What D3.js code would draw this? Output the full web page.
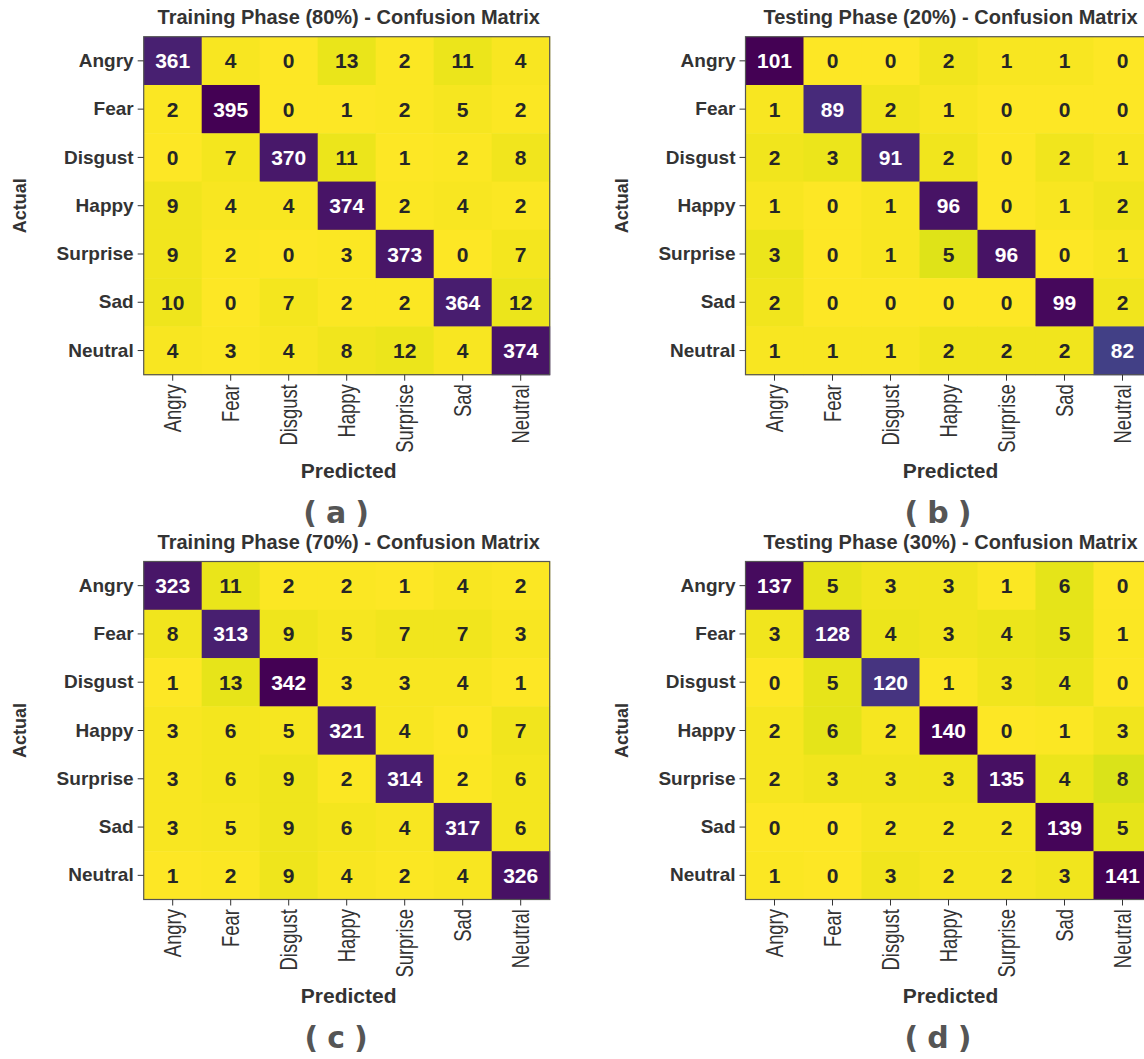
<!DOCTYPE html>
<html>
<head>
<meta charset="utf-8">
<script src="https://cdn.jsdelivr.net/npm/d3@7"></script>
<style>
  body { margin: 0; background: #fff; }
  svg { display: block; }
  .tick line { stroke: #333; }
  .axis path.domain { display: none; }
</style>
</head>
<body>
<svg width="1144" height="1059"></svg>
<script>
const classes = ["Angry", "Fear", "Disgust", "Happy", "Surprise", "Sad", "Neutral"];

const train80 = [
  [361, 4, 0, 13, 2, 11, 4],
  [2, 395, 0, 1, 2, 5, 2],
  [0, 7, 370, 11, 1, 2, 8],
  [9, 4, 4, 374, 2, 4, 2],
  [9, 2, 0, 3, 373, 0, 7],
  [10, 0, 7, 2, 2, 364, 12],
  [4, 3, 4, 8, 12, 4, 374]
];
const test20 = [
  [101, 0, 0, 2, 1, 1, 0],
  [1, 89, 2, 1, 0, 0, 0],
  [2, 3, 91, 2, 0, 2, 1],
  [1, 0, 1, 96, 0, 1, 2],
  [3, 0, 1, 5, 96, 0, 1],
  [2, 0, 0, 0, 0, 99, 2],
  [1, 1, 1, 2, 2, 2, 82]
];
const train70 = [
  [323, 11, 2, 2, 1, 4, 2],
  [8, 313, 9, 5, 7, 7, 3],
  [1, 13, 342, 3, 3, 4, 1],
  [3, 6, 5, 321, 4, 0, 7],
  [3, 6, 9, 2, 314, 2, 6],
  [3, 5, 9, 6, 4, 317, 6],
  [1, 2, 9, 4, 2, 4, 326]
];
const test30 = [
  [137, 5, 3, 3, 1, 6, 0],
  [3, 128, 4, 3, 4, 5, 1],
  [0, 5, 120, 1, 3, 4, 0],
  [2, 6, 2, 140, 0, 1, 3],
  [2, 3, 3, 3, 135, 4, 8],
  [0, 0, 2, 2, 2, 139, 5],
  [1, 0, 3, 2, 2, 3, 141]
];

const titles = [
  "Training Phase (80%) - Confusion Matrix",
  "Testing Phase (20%) - Confusion Matrix",
  "Training Phase (70%) - Confusion Matrix",
  "Testing Phase (30%) - Confusion Matrix"
];
const tags = ["a", "b", "c", "d"];

const svg = d3.select('svg');
const pw = 406, ph = 338;
const lblFont = "'Liberation Sans', Arial, sans-serif";

function drawMatrix(g, data, title, tag) {
  const x = d3.scaleBand().domain(classes).range([0, pw]);
  const y = d3.scaleBand().domain(classes).range([0, ph]);
  const vals = data.flat();
  const color = d3.scaleSequential(t => d3.interpolateViridis(1 - t))
    .domain([d3.min(vals), d3.max(vals)]);
  const cells = [];
  data.forEach((row, i) => row.forEach((v, j) => cells.push({r: classes[i], c: classes[j], v: v})));

  g.selectAll('rect.cell').data(cells).enter()
    .append('rect').attr('class', 'cell')
    .attr('x', d => x(d.c)).attr('y', d => y(d.r))
    .attr('width', x.bandwidth() + 0.5).attr('height', y.bandwidth() + 0.5)
    .attr('fill', d => color(d.v));

  g.selectAll('text.val').data(cells).enter()
    .append('text').attr('class', 'val')
    .attr('x', d => x(d.c) + x.bandwidth() / 2)
    .attr('y', d => y(d.r) + y.bandwidth() / 2)
    .attr('dy', '0.36em')
    .attr('text-anchor', 'middle')
    .style('font', `bold 21px ${lblFont}`)
    .attr('fill', d => d.v > d3.max(vals) / 2 ? '#fff' : '#262626')
    .text(d => d.v);

  g.append('rect').attr('width', pw).attr('height', ph)
    .attr('fill', 'none').attr('stroke', '#555').attr('stroke-width', 1.2);

  const ay = g.append('g').attr('class', 'axis')
    .call(d3.axisLeft(y).tickSize(6).tickPadding(4));
  ay.selectAll('text').style('font', `bold 19px ${lblFont}`).attr('fill', '#333');

  // narrow tick labels: squeeze along the text direction
  const ax = g.append('g').attr('class', 'axis')
    .attr('transform', 'translate(0,' + ph + ')')
    .call(d3.axisBottom(x).tickSize(6));
  ax.selectAll('text')
    .attr('transform', 'rotate(-90) scale(0.8,1)')
    .attr('x', -12).attr('y', 0).attr('dy', '0.35em')
    .attr('text-anchor', 'end')
    .style('font', `23px ${lblFont}`)
    .attr('fill', '#333');

  g.append('text').attr('x', pw / 2 + 2).attr('y', -13)
    .attr('text-anchor', 'middle')
    .style('font', `bold 20px ${lblFont}`).attr('fill', '#333')
    .text(title);

  g.append('text').attr('x', pw / 2 + 2).attr('y', ph + 103)
    .attr('text-anchor', 'middle')
    .style('font', `bold 21px ${lblFont}`).attr('fill', '#333')
    .text('Predicted');

  g.append('text')
    .attr('transform', `translate(${-118},${ph / 2}) rotate(-90)`)
    .attr('text-anchor', 'middle')
    .style('font', `bold 18px ${lblFont}`).attr('fill', '#333')
    .text('Actual');

  g.append('text').attr('x', pw / 2 - 6).attr('y', ph + 148)
    .attr('text-anchor', 'middle')
    .style('font', "bold 30px 'DejaVu Sans', sans-serif")
    .style('letter-spacing', '9px')
    .attr('fill', '#555')
    .text('(' + tag + ')');
}

const mats = [train80, test20, train70, test30];
const origins = [[143.7, 36.7], [745.5, 36.7], [143.7, 561.5], [745.5, 561.5]];
mats.forEach((m, k) => {
  const g = svg.append('g').attr('transform', `translate(${origins[k][0]},${origins[k][1]})`);
  drawMatrix(g, m, titles[k], tags[k]);
});
</script>
</body>
</html>
